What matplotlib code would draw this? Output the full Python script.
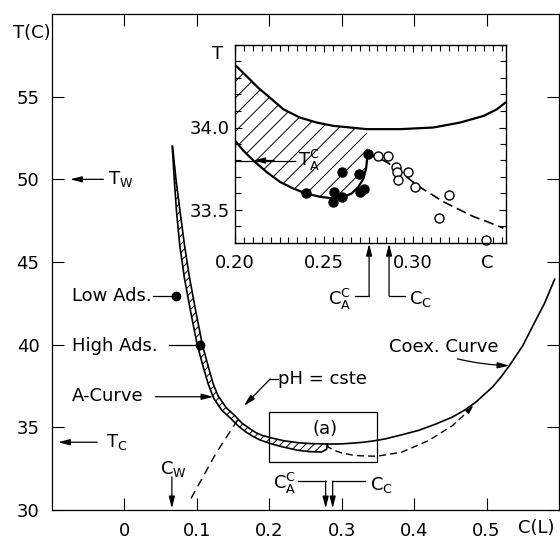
import numpy as np
import matplotlib
matplotlib.use("Agg")
import matplotlib.pyplot as plt
from matplotlib.ticker import MultipleLocator

plt.rcParams['font.family'] = ['DejaVu Sans']
plt.rcParams['mathtext.default'] = 'regular'
plt.rcParams['hatch.linewidth'] = 0.7

# main panel: coexistence curve (inner line of the band, then the full curve)
coex_c = [0.0664, 0.0712, 0.0770, 0.0830, 0.0901, 0.0986, 0.1076, 0.1158, 0.1226,
          0.1294, 0.1407, 0.1521, 0.1623, 0.1725, 0.1815, 0.1904, 0.2028, 0.22, 0.24,
          0.256, 0.2722, 0.286, 0.30, 0.314, 0.328, 0.344, 0.36, 0.383, 0.4065, 0.43,
          0.4528, 0.47, 0.485, 0.508, 0.52, 0.5315, 0.55, 0.5639, 0.58, 0.594]
coex_t = [52.0, 50.0, 48.0, 46.0, 44.0, 42.0, 40.0, 38.67, 37.62,
          36.90, 36.18, 35.72, 35.25, 34.94, 34.68, 34.51, 34.36, 34.19, 34.07,
          34.02, 34.0, 33.99, 34.0, 34.04, 34.09, 34.18, 34.3, 34.55, 34.82, 35.2,
          35.62, 36.05, 36.52, 37.43, 38.05, 38.73, 39.94, 41.14, 42.5, 43.96]

# A-curve (outer line of the band), ending in a small hook
acurve_c = [0.0660, 0.0688, 0.0720, 0.0764, 0.0829, 0.0914, 0.1004, 0.1092, 0.1158,
            0.1233, 0.1345, 0.1471, 0.1575, 0.1683, 0.1780, 0.1874, 0.2028, 0.22,
            0.2399, 0.256, 0.2722, 0.2792, 0.2799]
acurve_t = [52.0, 50.0, 48.0, 46.0, 44.0, 42.0, 40.0, 38.59, 37.6,
            36.75, 36.03, 35.52, 35.07, 34.70, 34.44, 34.23, 34.0, 33.8,
            33.61, 33.53, 33.51, 33.67, 33.98]

# dashed continuation below the coexistence curve
dash_c = [0.2799, 0.2815, 0.29, 0.30, 0.314, 0.325, 0.3486, 0.383, 0.42, 0.4528, 0.474]
dash_t = [33.98, 33.8, 33.6, 33.45, 33.33, 33.28, 33.25, 33.5, 34.2, 35.1, 35.95]

# pH = const line
ph_c = [0.092, 0.126, 0.16]
ph_t = [30.7, 33.4, 35.7]

low_ads = (0.0708, 42.95)
high_ads = (0.1040, 40.0)

# inset (a)
in_up_c = [0.2, 0.2066, 0.2131, 0.2197, 0.2272, 0.2365, 0.2459, 0.2552, 0.2646, 0.2740,
           0.2927, 0.3114, 0.3264, 0.3395, 0.347, 0.3517]
in_up_t = [34.38, 34.31, 34.24, 34.18, 34.11, 34.06, 34.03, 34.01, 34.0, 33.99,
           33.99, 34.0, 34.03, 34.07, 34.11, 34.15]
in_lo_c = [0.2, 0.2047, 0.2103, 0.2178, 0.2253, 0.2328, 0.2399, 0.2478, 0.2552, 0.2609,
           0.2655, 0.2693, 0.2721, 0.2736, 0.2745]
in_lo_t = [33.92, 33.86, 33.80, 33.73, 33.67, 33.63, 33.60, 33.58, 33.57, 33.58,
           33.60, 33.64, 33.69, 33.75, 33.84]
in_dash_c = [0.2745, 0.2796, 0.2852, 0.2908, 0.2965, 0.3021, 0.3096, 0.3170, 0.3245,
             0.3339, 0.3414, 0.3507]
in_dash_t = [33.84, 33.82, 33.79, 33.75, 33.70, 33.65, 33.60, 33.55, 33.51,
             33.46, 33.43, 33.39]
full_c = [0.240, 0.2556, 0.2551, 0.260, 0.260, 0.2698, 0.2702, 0.2725, 0.2745]
full_t = [33.60, 33.61, 33.55, 33.58, 33.73, 33.72, 33.61, 33.63, 33.84]
open_c = [0.2805, 0.2858, 0.2904, 0.2912, 0.2918, 0.297, 0.3011, 0.3146, 0.3204, 0.3408]
open_t = [33.83, 33.83, 33.76, 33.73, 33.68, 33.73, 33.64, 33.45, 33.59, 33.32]

fs = 13
arw = dict(arrowstyle='-|>,head_length=0.7,head_width=0.18', color='k', lw=0.9,
           shrinkA=0, shrinkB=0)

fig = plt.figure(figsize=(5.6, 5.39), dpi=100)
ax = fig.add_axes([52/560, 1-510/539, 507/560, 496/539])
ax.set_xlim(-0.1, 0.6)
ax.set_ylim(30, 60)
ax.set_xticks([0, 0.1, 0.2, 0.3, 0.4, 0.5])
ax.set_xticklabels(['0', '0.1', '0.2', '0.3', '0.4', '0.5'])
ax.set_yticks([30, 35, 40, 45, 50, 55])
ax.tick_params(direction='in', length=8.5, width=0.8, top=True, right=True,
               labelsize=fs, pad=9)
for s in ax.spines.values():
    s.set_linewidth(0.9)

# hatched band between coexistence and A-curve
cc = np.array(coex_c)
ct = np.array(coex_t)
m = cc <= 0.2723
band_c = np.concatenate([cc[m], acurve_c[::-1]])
band_t = np.concatenate([ct[m], acurve_t[::-1]])
ax.fill(band_c, band_t, facecolor='white', edgecolor='k', hatch='////', lw=0)
ax.plot(coex_c, coex_t, color='k', lw=1.2)
ax.plot(acurve_c, acurve_t, color='k', lw=1.2)
ax.plot(dash_c, dash_t, color='k', lw=1.0, ls=(0, (5, 3)))
ax.annotate('', xy=(0.482, 36.35), xytext=(dash_c[-1], dash_t[-1]),
            arrowprops=dict(arw, arrowstyle='-|>,head_length=0.5,head_width=0.13'))
ax.plot(ph_c, ph_t, color='k', lw=1.0, ls=(0, (6, 4)))

ax.plot(*low_ads, 'ko', ms=6)
ax.plot(*high_ads, 'ko', ms=6)

ax.text(-0.072, 42.95, 'Low Ads.', fontsize=fs, va='center')
ax.plot([0.039, low_ads[0]], [42.95, 42.95], color='k', lw=0.9)
ax.text(-0.072, 39.94, 'High Ads.', fontsize=fs, va='center')
ax.plot([0.061, high_ads[0]], [40.0, 40.0], color='k', lw=0.9)
ax.text(-0.072, 36.87, 'A-Curve', fontsize=fs, va='center')
ax.annotate('', xy=(0.1228, 36.85), xytext=(0.043, 36.85), arrowprops=arw)

ax.text(0.2125, 37.95, 'pH = cste', fontsize=fs, va='center')
ax.plot([0.2125, 0.2014], [37.93, 37.93], color='k', lw=0.9)
ax.annotate('', xy=(0.165, 36.3), xytext=(0.2014, 37.93), arrowprops=arw)

ax.text(0.365, 39.84, 'Coex. Curve', fontsize=fs, va='center')
ax.annotate('', xy=(0.5315, 38.73), xytext=(0.4597, 39.14),
            arrowprops=dict(arw, connectionstyle='arc3,rad=0.05'))

ax.add_patch(plt.Rectangle((0.2, 32.92), 0.149, 3.0, fill=False, lw=0.9))
ax.text(0.2768, 34.92, '(a)', fontsize=fs, ha='center', va='center')

ax.text(-0.022, 50.0, '$T_W$', fontsize=fs, va='center')
ax.annotate('', xy=(-0.075, 50.0), xytext=(-0.029, 50.0), arrowprops=arw)
ax.text(-0.026, 34.1, '$T_C$', fontsize=fs, va='center')
ax.annotate('', xy=(-0.0917, 34.1), xytext=(-0.0375, 34.1), arrowprops=arw)
ax.text(0.068, 32.45, '$C_W$', fontsize=fs, ha='center', va='center')
ax.annotate('', xy=(0.0655, 30.1), xytext=(0.0655, 32.0), arrowprops=arw)

ax.text(0.221, 31.6, '$C_A^C$', fontsize=fs, ha='center', va='center')
ax.plot([0.2403, 0.2778], [31.75, 31.75], color='k', lw=0.9)
ax.annotate('', xy=(0.2778, 30.1), xytext=(0.2778, 31.75), arrowprops=arw)
ax.text(0.339, 31.5, '$C_C$', fontsize=fs, va='center')
ax.plot([0.2875, 0.3324], [31.75, 31.75], color='k', lw=0.9)
ax.annotate('', xy=(0.2875, 30.1), xytext=(0.2875, 31.75), arrowprops=arw)

ax.text(-0.077, 0.962, 'T(C)', fontsize=fs, ha='left', va='center',
        transform=ax.transAxes)
ax.text(0.594, -0.036, 'C(L)', fontsize=fs, ha='right', va='center',
        transform=ax.get_xaxis_transform())

# inset
ai = fig.add_axes([235/560, 1-243/539, 270.7/560, 198/539])
ai.set_xlim(0.2, 0.352)
ai.set_ylim(33.3, 34.5)
ai.set_xticks([0.20, 0.25, 0.30])
ai.set_xticklabels(['0.20', '0.25', '0.30'])
ai.set_yticks([33.5, 34.0])
ai.set_yticklabels(['33.5', '34.0'])
ai.xaxis.set_minor_locator(MultipleLocator(0.005))
ai.yaxis.set_minor_locator(MultipleLocator(0.1))
ai.tick_params(which='both', direction='in', top=True, right=True, width=0.8)
ai.tick_params(which='major', length=5, labelsize=fs, pad=8)
ai.tick_params(axis='y', which='major', pad=4)
ai.tick_params(which='minor', length=4)
for s in ai.spines.values():
    s.set_linewidth(1.0)

uc = np.array(in_up_c)
ut = np.array(in_up_t)
mi = uc <= in_lo_c[-1]
hc = np.concatenate([uc[mi], in_lo_c[::-1]])
ht = np.concatenate([ut[mi], in_lo_t[::-1]])
ai.fill(hc, ht, facecolor='white', edgecolor='k', hatch='//', lw=0)
ai.plot(in_up_c, in_up_t, color='k', lw=1.6)
ai.plot(in_lo_c, in_lo_t, color='k', lw=1.6)
ai.plot(in_dash_c, in_dash_t, color='k', lw=1.2, ls=(0, (6, 3)))
ai.plot(full_c, full_t, 'ko', ms=6.5, clip_on=False)
ai.plot(open_c, open_t, 'o', mfc='white', mec='k', mew=1.0, ms=6.5, clip_on=False)

ai.plot([0.2, 0.2337], [33.80, 33.80], color='k', lw=0.9)
ai.annotate('', xy=(0.2103, 33.80), xytext=(0.222, 33.80), arrowprops=arw)
ai.text(0.2352, 33.80, '$T_A^C$', fontsize=fs, va='center')

ai.text(-0.065, 0.955, 'T', fontsize=fs, ha='center', va='center', transform=ai.transAxes)
ai.text(0.931, -0.10, 'C', fontsize=fs, ha='center', va='center', transform=ai.transAxes)

# arrows under the inset
ai.annotate('', xy=(0.2753, 33.295), xytext=(0.2753, 32.98),
            arrowprops=arw, annotation_clip=False)
ai.plot([0.2753, 0.2675], [32.98, 32.98], color='k', lw=0.9, clip_on=False)
ai.text(0.2655, 32.96, '$C_A^C$', fontsize=fs, ha='right', va='center')
ai.annotate('', xy=(0.2865, 33.295), xytext=(0.2865, 32.98),
            arrowprops=arw, annotation_clip=False)
ai.plot([0.2865, 0.2955], [32.98, 32.98], color='k', lw=0.9, clip_on=False)
ai.text(0.2975, 32.96, '$C_C$', fontsize=fs, ha='left', va='center')

fig.savefig('out.png', dpi=100)
